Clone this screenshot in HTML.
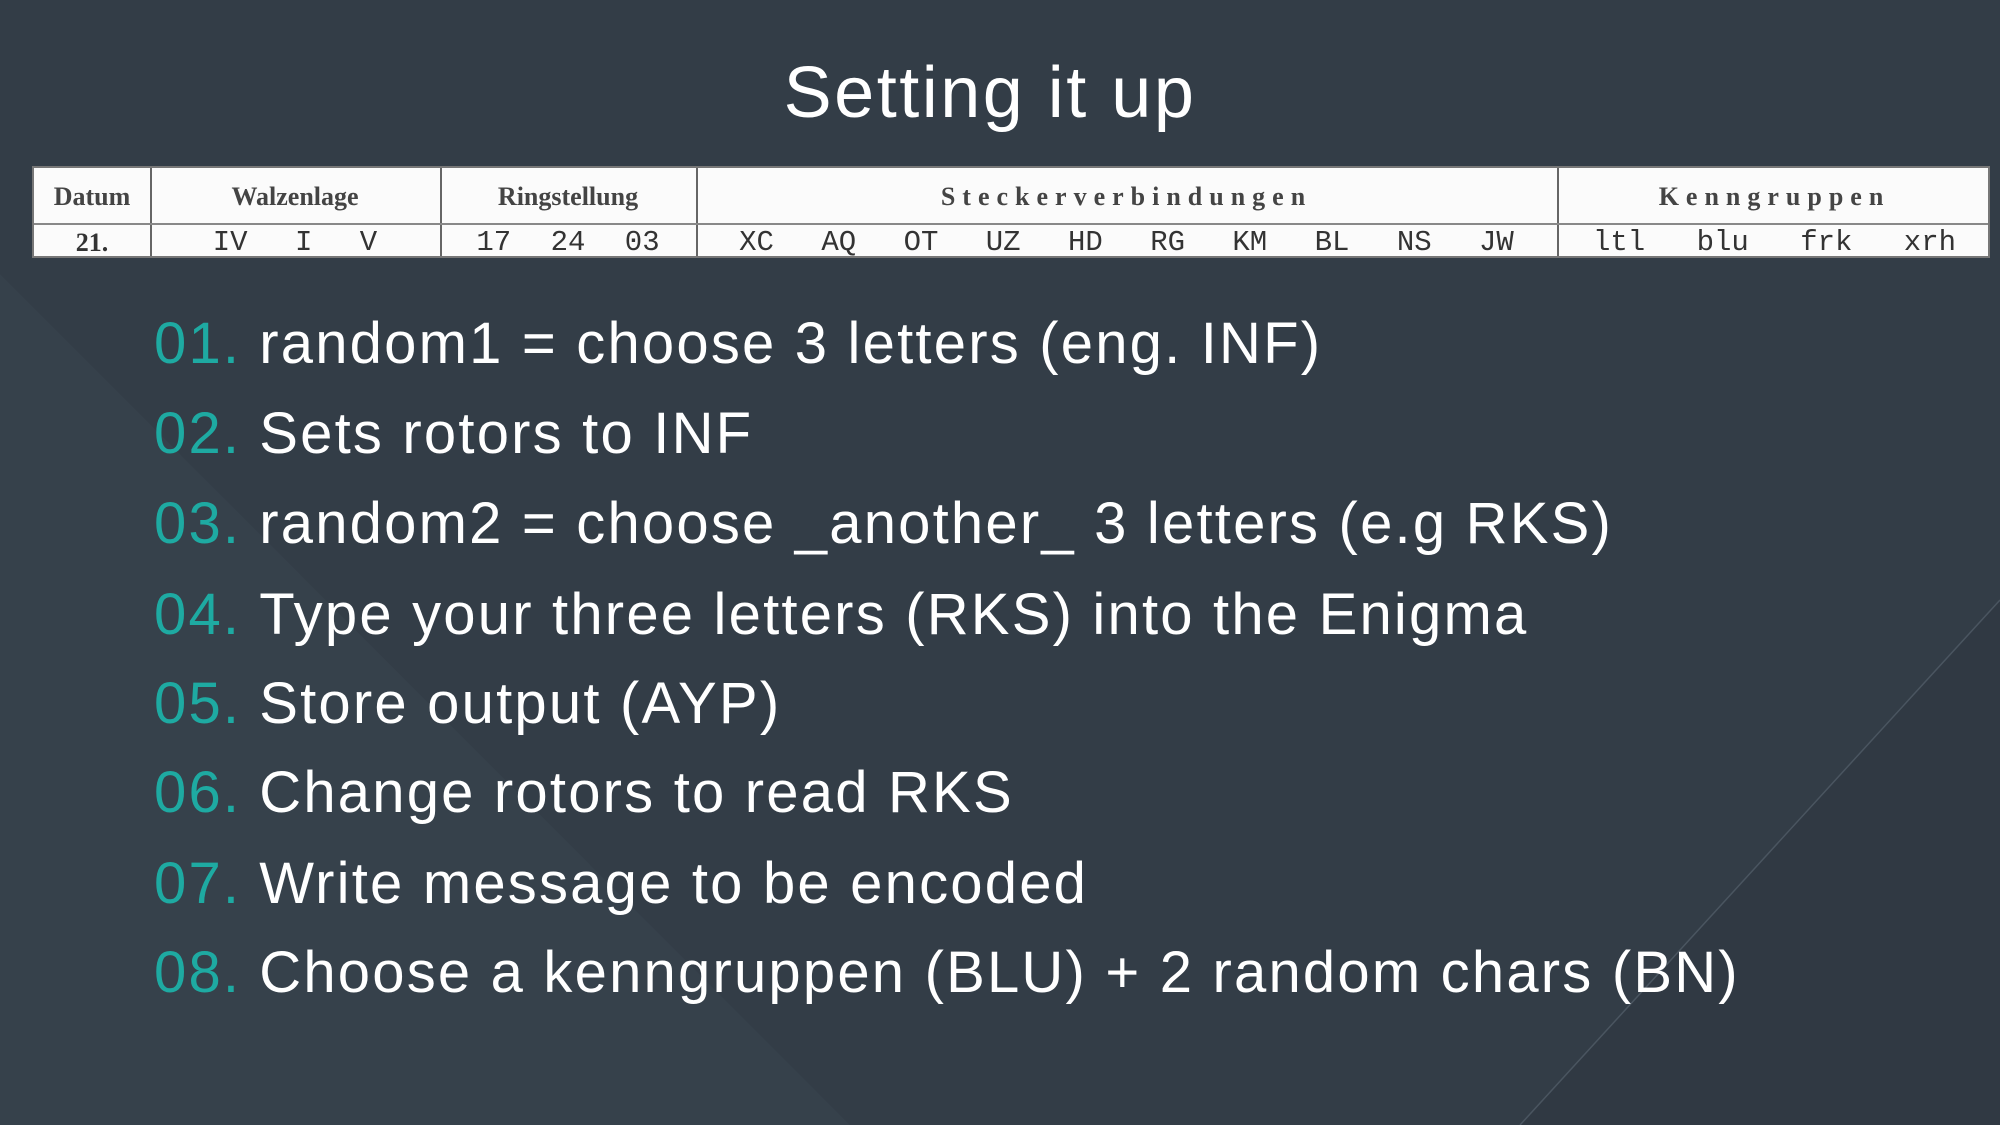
<!DOCTYPE html>
<html><head><meta charset="utf-8"><style>
html,body{margin:0;padding:0;width:2000px;height:1125px;overflow:hidden;background:#333d47;}
body{position:relative;font-family:"Liberation Sans",sans-serif;}
svg.bg{position:absolute;left:0;top:0;}
.title{position:absolute;left:0;width:1980px;text-align:center;top:52px;font-size:72px;color:#fff;letter-spacing:2.5px;}
.tbl{position:absolute;left:32px;top:166px;width:1958px;height:92px;background:#fbfbfb;border:2px solid #777;box-sizing:border-box;font-family:"Liberation Serif",serif;color:#333;}
.v{position:absolute;top:0;bottom:0;width:2px;background:#666;}
.h{position:absolute;left:0;right:0;top:55px;height:2px;background:#888;}
.c{position:absolute;text-align:center;}
.hd{top:14px;font-size:26px;font-weight:bold;color:#444;}
.rw{top:58px;font-size:29px;font-family:"Liberation Mono",monospace;word-spacing:14px;}
.list{position:absolute;left:154px;top:0;color:#fff;font-size:58px;letter-spacing:2.2px;}
.list div{position:absolute;white-space:nowrap;}
.list span{color:#1eaaa2;margin-right:18px;}
</style></head><body>
<svg class="bg" width="2000" height="1125">
<polygon points="0,274 850,1125 0,1125" fill="#36414b"/>
<polygon points="2000,600 1520,1125 2000,1125" fill="#303943"/>
<line x1="2000" y1="600" x2="1520" y2="1125" stroke="#4a5560" stroke-width="1.5"/>
</svg>
<div class="title">Setting it up</div>
<div class="tbl">
<div class="v" style="left:116px"></div>
<div class="v" style="left:406px"></div>
<div class="v" style="left:662px"></div>
<div class="v" style="left:1523px"></div>
<div class="h"></div>
<div class="c hd" style="left:0;width:116px">Datum</div>
<div class="c hd" style="left:116px;width:290px">Walzenlage</div>
<div class="c hd" style="left:406px;width:256px">Ringstellung</div>
<div class="c hd" style="left:662px;width:861px;letter-spacing:7px">Steckerverbindungen</div>
<div class="c hd" style="left:1523px;width:435px;letter-spacing:7px">Kenngruppen</div>
<div class="c rw" style="left:0;width:116px;font-family:'Liberation Serif',serif;font-weight:bold;font-size:26px;top:60px">21.</div>
<div class="c rw" style="left:116px;width:290px;word-spacing:30px">IV I V</div>
<div class="c rw" style="left:406px;width:256px;word-spacing:22px">17 24 03</div>
<div class="c rw" style="left:662px;width:861px;word-spacing:30px">XC AQ OT UZ HD RG KM BL NS JW</div>
<div class="c rw" style="left:1523px;width:435px;word-spacing:34px">ltl blu frk xrh</div>
</div>
<div class="list">
<div style="top:310px"><span>01.</span>random1 = choose 3 letters (eng. INF)</div>
<div style="top:400px"><span>02.</span>Sets rotors to INF</div>
<div style="top:490px"><span>03.</span>random2 = choose _another_ 3 letters (e.g RKS)</div>
<div style="top:581px"><span>04.</span>Type your three letters (RKS) into the Enigma</div>
<div style="top:670px"><span>05.</span>Store output (AYP)</div>
<div style="top:759px"><span>06.</span>Change rotors to read RKS</div>
<div style="top:850px"><span>07.</span>Write message to be encoded</div>
<div style="top:939px"><span>08.</span>Choose a kenngruppen (BLU) + 2 random chars (BN)</div>
</div>
</body></html>
